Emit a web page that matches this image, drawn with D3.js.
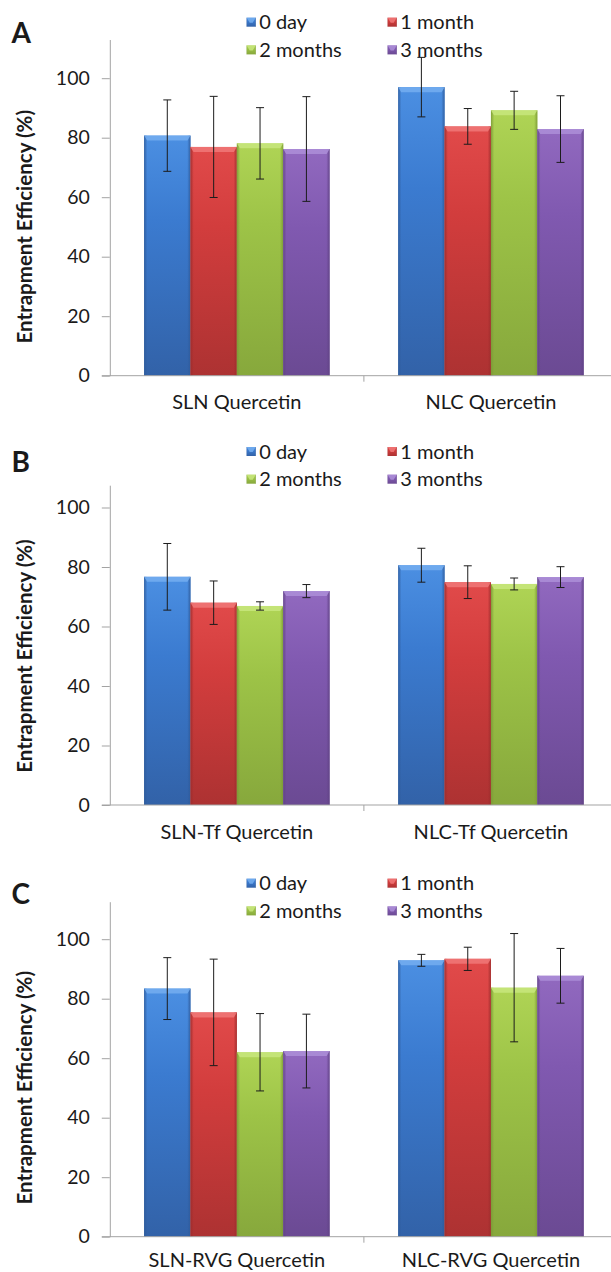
<!DOCTYPE html>
<html>
<head>
<meta charset="utf-8">
<script src="https://cdn.jsdelivr.net/npm/d3@7"></script>
<style>
  body { margin: 0; background: #fff; }
  svg { display: block; }
  text { font-family: Lato, "Open Sans", sans-serif; fill: #1a1a1a; }
</style>
</head>
<body>
<svg id="chart" width="611" height="1272"></svg>
<script>
// Storage time points (series)
const series = ["0 day", "1 month", "2 months", "3 months"];
const panelLetters = ["A", "B", "C"];

// Formulations per panel
const categoriesA = ["SLN Quercetin", "NLC Quercetin"];
const categoriesB = ["SLN-Tf Quercetin", "NLC-Tf Quercetin"];
const categoriesC = ["SLN-RVG Quercetin", "NLC-RVG Quercetin"];

// Entrapment efficiency (%) means, [formulation][time point]
const meansA = [[80.7, 76.9, 78.1, 76.2], [97.0, 83.8, 89.2, 82.9]];
const meansB = [[76.7, 68.0, 66.9, 71.9], [80.6, 74.9, 74.3, 76.6]];
const meansC = [[83.4, 75.4, 62.0, 62.4], [92.9, 93.4, 83.7, 87.7]];

// Error bar half-widths (%)
const errorsA = [[12.0, 17.0, 12.0, 17.6], [10.0, 6.0, 6.4, 11.2]];
const errorsB = [[11.2, 7.3, 1.4, 2.2], [5.7, 5.5, 2.0, 3.5]];
const errorsC = [[10.4, 17.9, 13.0, 12.4], [2.0, 3.9, 18.2, 9.2]];

// Y axis ticks and the value at which each panel's axis line ends
const yTicks = [0, 20, 40, 60, 80, 100];
const axisMax = [113, 107.5, 112.6];
const yTitle = "Entrapment Efficiency (%)";

const panels = [
  { cats: categoriesA, means: meansA, errs: errorsA },
  { cats: categoriesB, means: meansB, errs: errorsB },
  { cats: categoriesC, means: meansC, errs: errorsC }
];

// Layout
const W = 611, H = 1272;
const zeroY = [375.7, 805, 1236.7];
const pxPerUnit = 2.975;
const axisX = 109.8;
const catWidth = 254.1;
const axisColor = "#a3a3a3";

// Bar palette: [top, middle, bottom, bevel highlight, side edge]
const palette = [
  ["#4b8fe2", "#3b7bd0", "#3262a8", "#74aef0", "#2f5c9c"],
  ["#e14a4a", "#d23d3d", "#ad3232", "#f07878", "#9e2d2d"],
  ["#afd455", "#9dc347", "#87a83c", "#c8e67e", "#7c9a36"],
  ["#9169bf", "#8059b0", "#6b4a93", "#ad8fd8", "#614386"]
];

const svg = d3.select("#chart");
const defs = svg.append("defs");

palette.forEach((c, i) => {
  const g = defs.append("linearGradient").attr("id", "grad" + i)
    .attr("x1", 0).attr("y1", 0).attr("x2", 0).attr("y2", 1);
  g.append("stop").attr("offset", "0%").attr("stop-color", c[0]);
  g.append("stop").attr("offset", "35%").attr("stop-color", c[1]);
  g.append("stop").attr("offset", "100%").attr("stop-color", c[2]);
  const h = defs.append("linearGradient").attr("id", "side" + i)
    .attr("x1", 0).attr("y1", 0).attr("x2", 1).attr("y2", 0);
  h.append("stop").attr("offset", "0%").attr("stop-color", c[4]).attr("stop-opacity", 0.9);
  h.append("stop").attr("offset", "7%").attr("stop-color", c[4]).attr("stop-opacity", 0);
  h.append("stop").attr("offset", "93%").attr("stop-color", c[4]).attr("stop-opacity", 0);
  h.append("stop").attr("offset", "100%").attr("stop-color", c[4]).attr("stop-opacity", 0.9);
});

function drawBar(g, x, y, w, h, i) {
  const c = palette[i];
  g.append("rect").attr("x", x).attr("y", y).attr("width", w).attr("height", h)
    .attr("fill", `url(#grad${i})`);
  g.append("rect").attr("x", x).attr("y", y).attr("width", w).attr("height", h)
    .attr("fill", `url(#side${i})`);
  const b = Math.min(5, h);
  // top bevel
  g.append("path")
    .attr("d", `M${x},${y} L${x + w},${y} L${x + w - 3},${y + b} L${x + 3},${y + b} Z`)
    .attr("fill", c[3]).attr("opacity", 0.85);
}

panels.forEach((p, pi) => {
  const z = zeroY[pi];
  const g = svg.append("g");

  const y = d3.scaleLinear()
    .domain([0, axisMax[pi]])
    .range([z, z - axisMax[pi] * pxPerUnit]);

  const x0 = d3.scaleBand()
    .domain(p.cats)
    .range([axisX, axisX + catWidth * p.cats.length])
    .paddingInner(0.27)
    .paddingOuter(0.135);

  const x1 = d3.scaleBand()
    .domain(series)
    .range([0, x0.bandwidth()]);

  // Y axis
  const yAxis = g.append("g")
    .attr("transform", `translate(${axisX},0)`)
    .call(d3.axisLeft(y).tickValues(yTicks).tickSize(8).tickSizeOuter(0).tickPadding(12));
  yAxis.select(".domain").attr("stroke", axisColor);
  yAxis.selectAll(".tick line").attr("stroke", axisColor);
  yAxis.selectAll(".tick text")
    .attr("font-family", "Lato, sans-serif")
    .attr("font-size", 19.5)
    .attr("fill", "#1a1a1a");

  // Bars
  p.cats.forEach((cat, ci) => {
    series.forEach((s, si) => {
      const v = p.means[ci][si];
      const bx = x0(cat) + x1(s);
      drawBar(g, bx, y(v), x1.bandwidth(), y(0) - y(v), si);
    });
  });

  // X axis line and category boundary tick
  g.append("line")
    .attr("x1", axisX - 8).attr("x2", W)
    .attr("y1", y(0)).attr("y2", y(0))
    .attr("stroke", axisColor);
  const bounds = [axisX + x0.step()];
  bounds.forEach(bx => {
    g.append("line").attr("x1", bx).attr("x2", bx)
      .attr("y1", y(0)).attr("y2", y(0) + 6)
      .attr("stroke", axisColor);
  });

  // Error bars
  p.cats.forEach((cat, ci) => {
    series.forEach((s, si) => {
      const v = p.means[ci][si];
      const e = p.errs[ci][si];
      const cx = x0(cat) + x1(s) + x1.bandwidth() / 2;
      const eg = g.append("g").attr("stroke", "#1c1c1c").attr("stroke-width", 1);
      eg.append("line").attr("x1", cx).attr("x2", cx).attr("y1", y(v + e)).attr("y2", y(v - e));
      eg.append("line").attr("x1", cx - 4).attr("x2", cx + 4).attr("y1", y(v + e)).attr("y2", y(v + e));
      eg.append("line").attr("x1", cx - 4).attr("x2", cx + 4).attr("y1", y(v - e)).attr("y2", y(v - e));
    });
  });

  // Category labels (kept clear of the bottom edge)
  const labelY = Math.min(y(0) + 33.5, H - 5.5);
  p.cats.forEach(cat => {
    g.append("text")
      .attr("x", x0(cat) + x0.bandwidth() / 2)
      .attr("y", labelY)
      .attr("text-anchor", "middle")
      .attr("font-size", 20)
      .text(cat);
  });

  // Y title
  g.append("text")
    .attr("transform", `translate(32,${z - 149}) rotate(-90)`)
    .attr("text-anchor", "middle")
    .attr("font-size", 20.5)
    .attr("font-weight", "bold")
    .text(yTitle);

  // Panel letter
  g.append("text")
    .attr("x", 11.5).attr("y", z - 333)
    .attr("font-size", 28)
    .attr("font-weight", "bold")
    .attr("fill", "#000")
    .text(panelLetters[pi]);

  // Legend (2 x 2)
  const top100 = y(100);
  const legendCols = [246.7, 387.7];
  const legendRows = [top100 - 56, top100 - 28.3];
  series.forEach((s, si) => {
    const lx = legendCols[si % 2];
    const ly = legendRows[Math.floor(si / 2)];
    const sq = 9;
    drawBar(g, lx, ly - sq / 2, sq, sq, si);
    g.append("text")
      .attr("x", lx + 12.5)
      .attr("y", ly)
      .attr("dy", "0.36em")
      .attr("font-size", 20)
      .text(s);
  });
});
</script>
</body>
</html>
